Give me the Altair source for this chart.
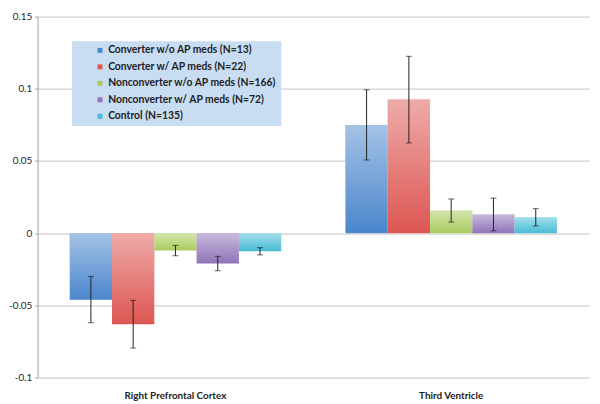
import altair as alt
import pandas as pd

regions = ["Right Prefrontal Cortex"] * 5 + ["Third Ventricle"] * 5
groups = [
    "Converter w/o AP meds (N=13)",
    "Converter w/ AP meds (N=22)",
    "Nonconverter w/o AP meds (N=166)",
    "Nonconverter w/ AP meds (N=72)",
    "Control (N=135)",
]
group_col = groups * 2
values = [-0.046, -0.063, -0.012, -0.021, -0.0125,
          0.075, 0.0925, 0.0157, 0.013, 0.011]
errors = [0.016, 0.0165, 0.0036, 0.005, 0.0025,
          0.0243, 0.030, 0.008, 0.0113, 0.006]
colors = ["#4a86cc", "#dd5652", "#a9cb5d", "#9073b8", "#47bcd6"]
y_ticks = [-0.1, -0.05, 0, 0.05, 0.1, 0.15]

df = pd.DataFrame({"region": regions, "group": group_col,
                   "value": values, "err": errors})

FONT = "Lato"

x_enc = alt.X("region:N", title=None,
              scale=alt.Scale(paddingInner=0, paddingOuter=0),
              axis=alt.Axis(labelAngle=0, labelFont=FONT, labelFontWeight="bold",
                            labelFontSize=10, labelColor="#222222", ticks=False,
                            tickSize=0, domain=False, labelPadding=13, grid=False))
xo_enc = alt.XOffset("group:N", sort=groups,
                     scale=alt.Scale(paddingInner=0, paddingOuter=0.76))
y_scale = alt.Scale(domain=[-0.1, 0.15], nice=False, zero=False)

base = alt.Chart(df).transform_calculate(
    lo="datum.value - datum.err", hi="datum.value + datum.err")

bars = base.mark_bar().encode(
    x=x_enc,
    xOffset=xo_enc,
    y=alt.Y("value:Q", title=None, scale=y_scale,
            axis=alt.Axis(values=y_ticks, labelExpr="'' + datum.value",
                          labelFont=FONT, labelFontSize=10, labelColor="#222222",
                          tickSize=3, tickColor="#a0a0a0", domainColor="#a0a0a0",
                          gridColor="#c4c4c4", labelPadding=3)),
    color=alt.Color("group:N", sort=groups,
                    scale=alt.Scale(domain=groups, range=colors),
                    legend=alt.Legend(title=None, orient="none", legendX=35, legendY=25,
                                      fillColor="#c8dcf2", padding=4, symbolOffset=19,
                                      symbolType="square", symbolSize=25,
                                      symbolStrokeWidth=0, labelFont=FONT,
                                      labelFontWeight="bold", labelFontSize=10.5,
                                      labelColor="#222222", rowPadding=5.7,
                                      labelOffset=3, labelLimit=400,
                                      labelExpr="datum.label + '\u2002'")),
)

shine = base.mark_bar(
    color=alt.LinearGradient(
        gradient="linear", x1=0, x2=0, y1=0, y2=1,
        stops=[alt.GradientStop(color="rgba(255,255,255,0.5)", offset=0),
               alt.GradientStop(color="rgba(255,255,255,0)", offset=1)])
).encode(x=x_enc, xOffset=xo_enc, y=alt.Y("value:Q", scale=y_scale))

rules = base.mark_rule(color="#222222", strokeWidth=1).encode(
    x=x_enc, xOffset=xo_enc,
    y=alt.Y("lo:Q", scale=y_scale), y2="hi:Q")

cap_lo = base.mark_tick(color="#222222", thickness=1, size=6).encode(
    x=x_enc, xOffset=xo_enc, y=alt.Y("lo:Q", scale=y_scale))
cap_hi = base.mark_tick(color="#222222", thickness=1, size=6).encode(
    x=x_enc, xOffset=xo_enc, y=alt.Y("hi:Q", scale=y_scale))

chart = alt.layer(bars, shine, rules, cap_lo, cap_hi).properties(
    width=559, height=366,
    autosize=alt.AutoSizeParams(type="none"),
    padding={"left": 30, "top": 6, "right": 3, "bottom": 22},
    background="white",
).configure_view(stroke=None)

chart.save("out.html", embed_options={"renderer": "svg", "actions": False})
